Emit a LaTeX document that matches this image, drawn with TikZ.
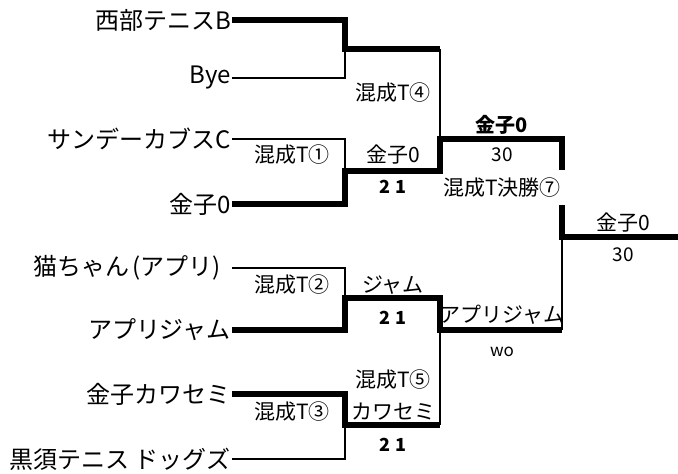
\documentclass[tikz,border=0pt]{standalone}
\usepackage{fontspec}
\setmainfont{Noto Sans CJK JP}

\begin{document}
\begin{tikzpicture}[x=1pt,y=-1pt,
		team/.style={anchor=east,inner sep=1pt,font=\fontsize{24}{25}\selectfont},
		lab/.style={inner sep=1pt,font=\fontsize{21}{22}\selectfont},
		res/.style={inner sep=1pt,font=\fontsize{19}{20}\selectfont},
		score/.style={inner sep=1pt,font=\fontsize{18}{20}\selectfont\bfseries},
		win/.style={line width=5.5pt},
		lose/.style={line width=2.5pt}]
		\useasboundingbox (0,0) rectangle (678,474);
		\node[team] (t1) at (232,20) {西部テニスB};
		\node[team] (t2) at (232,78) {Bye};
		\node[team] (t3) at (232,139) {サンデーカブスC};
		\node[team] (t4) at (232,204) {金子0};
		\node[team] (t5) at (232,268) {猫ちゃん\kern3pt(アプリ)\kern10pt};
		\node[team] (t6) at (232,330) {アプリジャム};
		\node[team] (t7) at (232,394) {金子カワセミ};
		\node[team] (t8) at (232,459) {黒須テニス ドッグズ};
		\coordinate (a1) at (345,49);
		\coordinate (a2) at (345,171);
		\coordinate (a3) at (345,298);
		\coordinate (a4) at (345,425);
		\coordinate (b1) at (440,49);
		\coordinate (b2) at (440,171);
		\coordinate (b3) at (440,298);
		\coordinate (b4) at (440,425);
		\coordinate (c1) at (440,139);
		\coordinate (c2) at (440,330);
		\coordinate (d1) at (562,139);
		\coordinate (g1) at (562,170);
		\coordinate (g2) at (562,205);
		\coordinate (e1) at (562,237);
		\coordinate (d2) at (562,330);
		\coordinate (f1) at (678,237);
		\draw[lose] (t2.east) -| (a1);
		\draw[lose] (t3.east) -| (a2);
		\draw[lose] (t5.east) -| (a3);
		\draw[lose] (t8.east) -| (a4);
		\draw[lose] (b1) -- (c1);
		\draw[lose] (c2) -- (b4);
		\draw[lose] (e1) -- (d2);
		\draw[win] (t1.east) -| (a1) -- (b1);
		\draw[win] (t4.east) -| (a2) -- (b2) -- (c1) -- (d1) -- (g1) (g2) -- (e1) -- (f1);
		\draw[win] (t6.east) -| (a3) -- (b3) -- (c2) -- (d2);
		\draw[win] (t7.east) -| (a4) -- (b4);
		\node[lab] (m1) at (292,155) {混成T①};
		\node[lab] (m2) at (292,285) {混成T②};
		\node[lab] (m3) at (292,412) {混成T③};
		\node[lab] (m4) at (393,93) {混成T④};
		\node[lab] (m5) at (393,380) {混成T⑤};
		\node[lab] (m7) at (502,188) {混成T決勝⑦};
		\node[lab] (w1) at (393,155) {金子0};
		\node[score] (s1) at (393,187) {2 1};
		\node[lab] (w2) at (393,285) {ジャム};
		\node[score] (s2) at (393,318) {2 1};
		\node[lab] (w3) at (393,412) {カワセミ};
		\node[score] (s3) at (393,445) {2 1};
		\node[res,font=\fontsize{20}{21}\selectfont\bfseries] (w4) at (502,125) {金子0};
		\node[res] (s4) at (502,155) {30};
		\node[lab] (w5) at (502,315) {アプリジャム};
		\node[res,font=\fontsize{17}{18}\selectfont] (s5) at (502,352) {wo};
		\node[lab] (w6) at (623,223) {金子0};
		\node[res] (s6) at (623,255) {30};
		\end{tikzpicture}
\end{document}
